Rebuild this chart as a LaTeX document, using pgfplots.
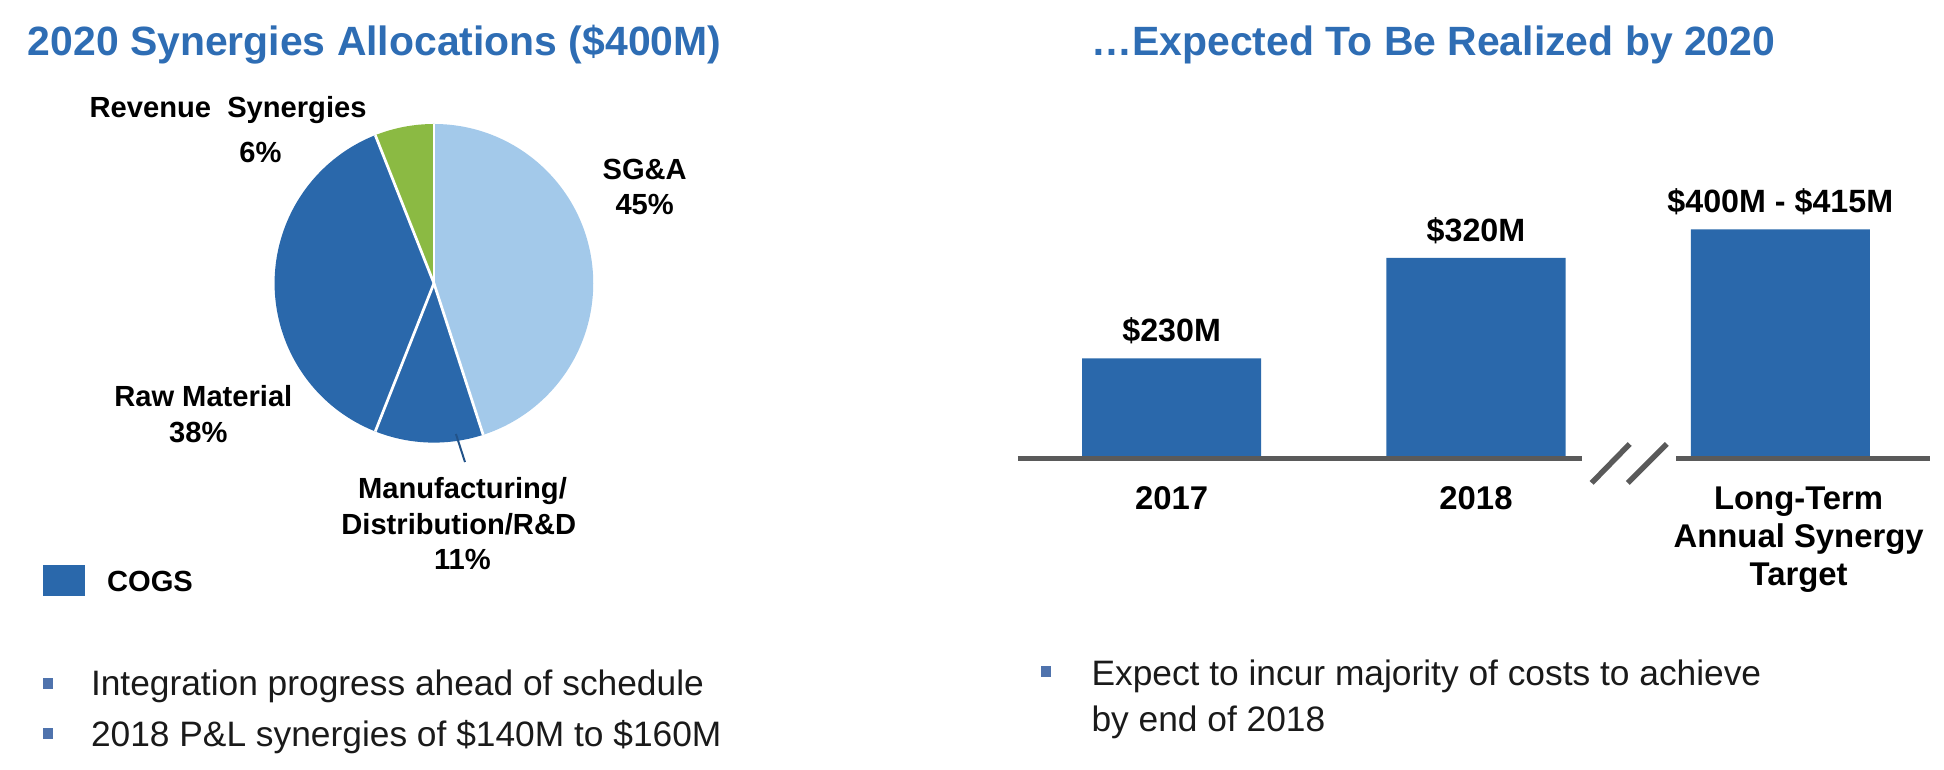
\documentclass[border=0pt]{standalone}
\usepackage{fontspec}
\setmainfont{Liberation Sans}
\usepackage{pgfplots}
\pgfplotsset{compat=1.18}
\definecolor{titleblue}{HTML}{2E6DB4}
\definecolor{cogs}{HTML}{2A68AB}
\definecolor{sga}{HTML}{A3C9EA}
\definecolor{rev}{HTML}{8BBA43}
\definecolor{bullet}{HTML}{4F73AD}
\definecolor{basegray}{HTML}{5A5A5A}
\definecolor{txt}{HTML}{1A1A1A}

\begin{document}
\begin{tikzpicture}[x=0.5pt,y=-0.5pt]
\useasboundingbox (0,0) rectangle (1568,621);

% titles
\tikzset{ttl/.style={anchor=base west, inner sep=0pt, text=titleblue,
  font=\fontsize{16.5}{20}\selectfont\bfseries}}
\node[ttl] at (22,45) {2020 Synergies Allocations (\$400M)};
\node[ttl] at (880,45) {…Expected To Be Realized by 2020};

% pie: 45 / 11 / 38 / 6 percent, clockwise from the top
\begin{axis}[at={(175pt,-114.25pt)}, anchor=center, hide axis,
  scale only axis, width=128.5pt, height=128.5pt,
  xmin=-1, xmax=1, ymin=-1, ymax=1, clip=false]
  \fill[sga]  (axis cs:0,0) -- (axis cs:0,1)
    arc[start angle=90, end angle={90-3.6*45}, radius=64.25pt] -- cycle;
  \fill[cogs] (axis cs:0,0) -- (axis cs:{cos(90-3.6*45)},{sin(90-3.6*45)})
    arc[start angle={90-3.6*45}, end angle={90-3.6*56}, radius=64.25pt] -- cycle;
  \fill[cogs] (axis cs:0,0) -- (axis cs:{cos(90-3.6*56)},{sin(90-3.6*56)})
    arc[start angle={90-3.6*56}, end angle={90-3.6*94}, radius=64.25pt] -- cycle;
  \fill[rev]  (axis cs:0,0) -- (axis cs:{cos(90-3.6*94)},{sin(90-3.6*94)})
    arc[start angle={90-3.6*94}, end angle={90-3.6*100}, radius=64.25pt] -- cycle;
  \pgfplotsinvokeforeach{0,45,56,94}{
    \draw[white, line width=1.1pt] (axis cs:0,0) -- (axis cs:{cos(90-3.6*#1)},{sin(90-3.6*#1)});
  }
  \draw[cogs!80!black, line width=0.8pt] (axis cs:0.138,-0.946) -- (axis cs:0.195,-1.122);
\end{axis}

% pie labels
\tikzset{lbl/.style={anchor=base, inner sep=0pt, text=black,
  font=\fontsize{11.75}{14}\selectfont\bfseries}}
\node[lbl] at (184,95)  {Revenue\ \ Synergies};
\node[lbl] at (210,131) {6\%};
\node[lbl] at (520,145) {SG\&A};
\node[lbl] at (520,173) {45\%};
\node[lbl] at (164,328) {Raw Material};
\node[lbl] at (160,357) {38\%};
\node[lbl] at (373,402) {Manufacturing/};
\node[lbl] at (370,431) {Distribution/R\&D};
\node[lbl] at (373,459) {11\%};

% legend
\fill[cogs] (35,456) rectangle (68.5,481);
\node[lbl, anchor=base west] at (86,477) {COGS};

% bar chart
\begin{axis}[at={(398.85pt,-184pt)}, anchor=south west,
  x=122.75pt, y=0.5pt, xmin=-0.6, xmax=2.6, ymin=0, ymax=200,
  ybar, bar width=72.25pt, clip=false,
  axis x line*=bottom, axis y line=none,
  x axis line style={draw=none}, major tick length=0pt,
  xtick={0,1,2.06},
  xticklabels={2017,2018,{Long-Term\\Annual Synergy\\Target}},
  xticklabel style={align=center, inner sep=0pt, yshift=-12pt, text=black,
    font=\fontsize{13.25}{15.5}\selectfont\bfseries},
  nodes near coords, point meta=explicit symbolic,
  every node near coord/.append style={anchor=base, inner sep=0pt, yshift=6.6pt,
    text=black, font=\fontsize{13}{15}\selectfont\bfseries}]
  \addplot[fill=cogs, draw=none] coordinates {
    (0,79)  [\$230M]
    (1,160) [\$320M]
    (2,183) [\$400M - \$415M]
  };
  \draw[basegray, line width=1.8pt] (axis cs:-0.505,-1.8) -- (axis cs:1.348,-1.8);
  \draw[basegray, line width=1.8pt] (axis cs:1.658,-1.8) -- (axis cs:2.493,-1.8);
  \draw[basegray, line width=2.2pt] (axis cs:1.380,-21.5) -- (axis cs:1.505,9.9);
  \draw[basegray, line width=2.2pt] (axis cs:1.499,-21.5) -- (axis cs:1.627,9.9);
\end{axis}

% bullets
\tikzset{btxt/.style={anchor=base west, inner sep=0pt, text=txt,
  font=\fontsize{14.25}{17}\selectfont}}
\fill[bullet] (35,547) rectangle (43,556);
\node[btxt] at (73,561) {Integration progress ahead of schedule};
\fill[bullet] (35,587) rectangle (43,596);
\node[btxt] at (73,602) {2018 P\&L synergies of \$140M to \$160M};
\fill[bullet] (840,537) rectangle (848,546);
\node[btxt] at (880,553) {Expect to incur majority of costs to achieve};
\node[btxt] at (880,590) {by end of 2018};
\end{tikzpicture}
\end{document}
